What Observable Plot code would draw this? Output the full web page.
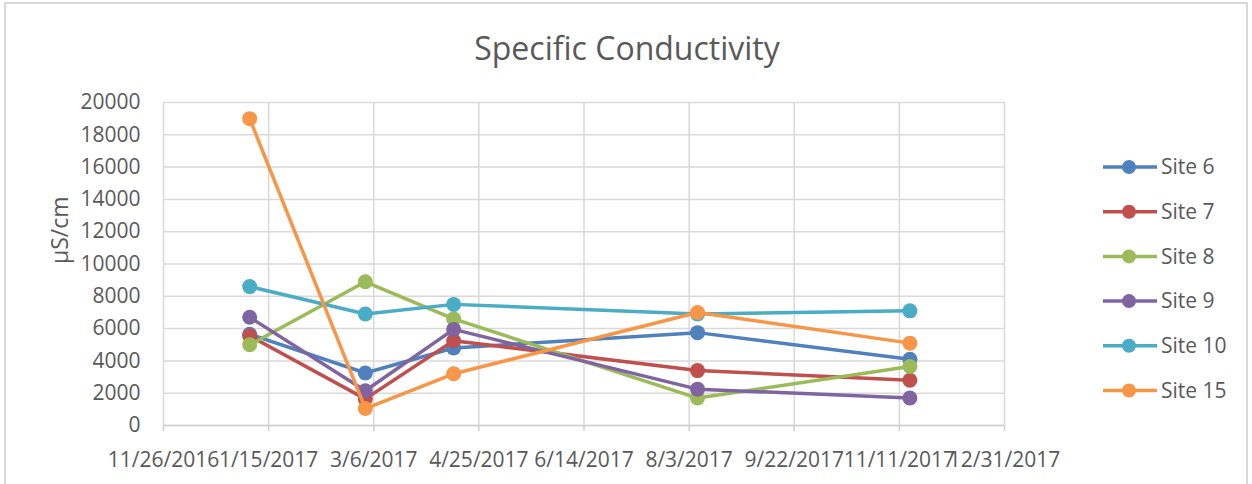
<!DOCTYPE html>
<html><head><meta charset="utf-8">
<script src="https://cdn.jsdelivr.net/npm/d3@7"></script>
<script src="https://cdn.jsdelivr.net/npm/@observablehq/plot@0.6"></script>
<style>
html,body{margin:0;padding:0;background:#fff;overflow:hidden}
#wrap{position:relative;width:1252px;height:484px;font-family:"Open Sans",sans-serif}
#frame{position:absolute;left:4px;top:2px;width:1244px;height:520px;border:2px solid #d9d9d9;box-sizing:border-box}
#wrap svg{position:absolute;left:0;top:0}
</style></head><body><div id="wrap"><div id="frame"></div></div>
<script>
const sites = ["Site 6", "Site 7", "Site 8", "Site 9", "Site 10", "Site 15"];
const colors = ["#4F81BD", "#C0504D", "#9BBB59", "#8064A2", "#4BACC6", "#F79646"];
const sampleDates = ["2017-01-06", "2017-03-02", "2017-04-13", "2017-08-07", "2017-11-16"];
const site6 = [5650, 3250, 4800, 5750, 4100];
const site7 = [5550, 1650, 5250, 3400, 2800];
const site8 = [5000, 8900, 6600, 1700, 3650];
const site9 = [6700, 2150, 5950, 2250, 1700];
const site10 = [8600, 6900, 7500, 6900, 7100];
const site15 = [19000, 1050, 3200, 7000, 5100];
const yTicks = [0, 2000, 4000, 6000, 8000, 10000, 12000, 14000, 16000, 18000, 20000];
const xTickLabels = ["11/26/2016", "1/15/2017", "3/6/2017", "4/25/2017", "6/14/2017", "8/3/2017", "9/22/2017", "11/11/2017", "12/31/2017"];

const seriesValues = [site6, site7, site8, site9, site10, site15];
const parseMDY = s => { const [m, d, y] = s.split("/").map(Number); return new Date(Date.UTC(y, m - 1, d)); };
const xTicks = xTickLabels.map(parseMDY);
const fmt = d => `${d.getUTCMonth() + 1}/${d.getUTCDate()}/${d.getUTCFullYear()}`;
const rows = [];
sites.forEach((s, i) => sampleDates.forEach((d, j) => rows.push({site: s, date: new Date(d + "T00:00:00Z"), value: seriesValues[i][j]})));

const marks = [
  Plot.gridY(yTicks, {stroke: "#d9d9d9", strokeOpacity: 1, strokeWidth: 1.5}),
  Plot.gridX(xTicks, {stroke: "#d9d9d9", strokeOpacity: 1, strokeWidth: 1.5}),
  Plot.ruleY([0], {stroke: "#d0d0d0", strokeWidth: 1.5}),
  Plot.axisX(xTicks, {tickSize: 6, tickPadding: 21, stroke: "#d0d0d0", strokeWidth: 1.5, tickFormat: fmt, fontSize: 21, fill: "#595959", label: null}),
  Plot.axisY(yTicks, {tickSize: 0, tickPadding: 23, tickFormat: d => String(d), fontSize: 21, fill: "#595959", label: null}),
  Plot.text(["µS/cm"], {frameAnchor: "left", dx: -103, rotate: -90, fontSize: 23, fill: "#595959"})
];
sites.forEach(s => {
  const data = rows.filter(r => r.site === s);
  marks.push(Plot.line(data, {x: "date", y: "value", stroke: "site", strokeWidth: 3.5}));
  marks.push(Plot.dot(data, {x: "date", y: "value", fill: "site", r: 7.5, stroke: "none"}));
});

const chart = Plot.plot({
  width: 1252, height: 484,
  marginLeft: 163, marginRight: 248, marginTop: 102, marginBottom: 59,
  style: {fontFamily: "'Open Sans', sans-serif", color: "#595959", background: "transparent", overflow: "visible"},
  x: {type: "utc", domain: [xTicks[0], xTicks[xTicks.length - 1]], axis: null},
  y: {domain: [0, 20000], axis: null},
  color: {domain: sites, range: colors},
  marks
});
document.getElementById("wrap").appendChild(chart);

// Title and legend overlay
const ov = d3.select("#wrap").append("svg").attr("width", 1252).attr("height", 484)
  .style("font-family", "'Open Sans', sans-serif");
ov.append("text").attr("x", 627).attr("y", 60).attr("text-anchor", "middle")
  .attr("font-size", 32).attr("fill", "#595959").text("Specific Conductivity");
sites.forEach((s, i) => {
  const y = 167 + i * 44.7;
  const g = ov.append("g");
  g.append("line").attr("x1", 1103).attr("x2", 1157).attr("y1", y).attr("y2", y)
    .attr("stroke", colors[i]).attr("stroke-width", 3.5);
  g.append("circle").attr("cx", 1129).attr("cy", y).attr("r", 7).attr("fill", colors[i]);
  g.append("text").attr("x", 1161).attr("y", y).attr("dy", "0.35em")
    .attr("font-size", 21).attr("fill", "#595959").text(s);
});
</script></body></html>
